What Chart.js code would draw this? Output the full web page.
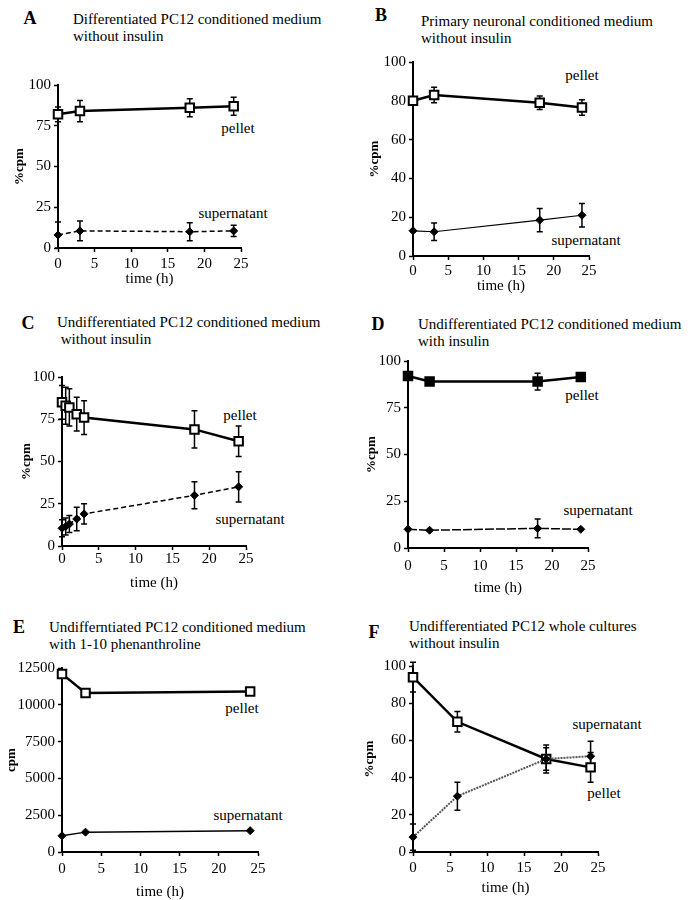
<!DOCTYPE html>
<html>
<head>
<meta charset="utf-8">
<script src="https://cdn.jsdelivr.net/npm/chart.js@4.4.0/dist/chart.umd.min.js"></script>
<style>
  body { margin: 0; background: #fff; }
  #page { position: relative; width: 691px; height: 900px; font-family: "Liberation Serif", "Times New Roman", serif; color: #000; overflow: hidden; }
  canvas { position: absolute; }
  .letter { position: absolute; font-weight: bold; font-size: 18px; transform: translate(-50%, -50%); }
  .title { position: absolute; font-size: 15px; line-height: 17px; white-space: nowrap; }
  .note { position: absolute; font-size: 15px; transform: translate(-50%, -50%); white-space: nowrap; }
</style>
</head>
<body>
<div id="page"></div>
<script>
// A: differentiated PC12 conditioned medium, no insulin
const timeA = [0, 3, 18, 24];
const pelletA = [82, 84, 86, 87];
const pelletErrA = [4.5, 6.5, 5.5, 5.5];
const supA = [8, 10.5, 10, 10.5];
const supErrA = [8, 6, 5.5, 3.5];

// B: primary neuronal conditioned medium
const timeB = [0, 3, 18, 24];
const pelletB = [80, 83, 79, 76.5];
const pelletErrB = [2, 4, 3.5, 4];
const supB = [13, 12.5, 18.5, 21];
const supErrB = [0, 4.5, 6, 6];

// C: undifferentiated, no insulin
const timeC = [0, 0.5, 1, 2, 3, 18, 24];
const pelletC = [85, 83, 82, 78, 76, 69, 62];
const pelletErrC = [10, 11, 11, 10, 10, 11, 9];
const supC = [10.5, 11.5, 13, 16, 19, 30, 35];
const supErrC = [5, 5, 5, 7, 6, 8, 9];

// D: undifferentiated, with insulin
const timeD = [0, 3, 18, 24];
const pelletD = [92, 89, 89, 91.5];
const pelletErrD = [0, 0, 4.5, 0];
const supD = [10, 9.5, 10.5, 10];
const supErrD = [0, 0, 5, 0];

// E: with 1-10 phenanthroline (raw cpm)
const timeE = [0, 3, 24];
const pelletE = [12100, 10800, 10900];
const pelletErrE = [0, 0, 0];
const supE = [1100, 1350, 1450];
const supErrE = [0, 0, 0];

// F: whole cultures
const timeF = [0, 6, 18, 24];
const pelletF = [94, 70, 50, 45.5];
const pelletErrF = [8, 5.5, 7.5, 8];
const supF = [8, 30, 50, 51.5];
const supErrF = [7, 7.5, 6, 8];

const xTicks = [0, 5, 10, 15, 20, 25];
const FONT = '"Liberation Serif", "Times New Roman", serif';

const panels = [
  { letter: 'A', letterAt: [30, 18], titleAt: [73, 11],
    title: ['Differentiated PC12 conditioned medium', 'without insulin'],
    plot: [58, 85, 241, 248], yTitleX: 20, xTitleY: 279, xPad: 3,
    yMax: 100, yStep: 25, yTitle: '%cpm',
    time: timeA, pellet: pelletA, pelletErr: pelletErrA, sup: supA, supErr: supErrA,
    pelletFill: '#fff', supDash: [5, 3], supWidth: 1.5, supColor: '#000',
    notes: [['pellet', 238, 128], ['supernatant', 233, 213]] },
  { letter: 'B', letterAt: [381, 15], titleAt: [421, 13],
    title: ['Primary neuronal conditioned medium', 'without insulin'],
    plot: [413, 62, 589, 256], yTitleX: 375, xTitleY: 286, xPad: 2,
    yMax: 100, yStep: 20, yTitle: '%cpm',
    time: timeB, pellet: pelletB, pelletErr: pelletErrB, sup: supB, supErr: supErrB,
    pelletFill: '#fff', supDash: [], supWidth: 1.2, supColor: '#000',
    notes: [['pellet', 582, 75], ['supernatant', 586, 240]] },
  { letter: 'C', letterAt: [28, 323], titleAt: [57, 314],
    title: ['Undifferentiated PC12 conditioned medium', ' without insulin'],
    plot: [62, 377, 246, 546], yTitleX: 27, xTitleY: 583, xPad: 0,
    yMax: 100, yStep: 25, yTitle: '%cpm',
    time: timeC, pellet: pelletC, pelletErr: pelletErrC, sup: supC, supErr: supErrC,
    pelletFill: '#fff', supDash: [5, 3], supWidth: 1.5, supColor: '#000',
    notes: [['pellet', 240, 415], ['supernatant', 250, 519]] },
  { letter: 'D', letterAt: [378, 324], titleAt: [418, 316],
    title: ['Undifferentiated PC12 conditioned medium', 'with insulin'],
    plot: [408, 361, 588, 548], yTitleX: 372, xTitleY: 588, xPad: 5,
    yMax: 100, yStep: 25, yTitle: '%cpm',
    time: timeD, pellet: pelletD, pelletErr: pelletErrD, sup: supD, supErr: supErrD,
    pelletFill: '#000', supDash: [9, 2], supWidth: 1.5, supColor: '#000',
    notes: [['pellet', 582, 395], ['supernatant', 598, 510]] },
  { letter: 'E', letterAt: [19, 627], titleAt: [49, 619],
    title: ['Undifferntiated PC12 conditioned medium', 'with 1-10 phenanthroline'],
    plot: [62, 668, 258, 852], yTitleX: 12, xTitleY: 892, xPad: 4,
    yMax: 12500, yStep: 2500, yTitle: 'cpm',
    time: timeE, pellet: pelletE, pelletErr: pelletErrE, sup: supE, supErr: supErrE,
    pelletFill: '#fff', supDash: [], supWidth: 1.5, supColor: '#000',
    notes: [['pellet', 242, 708], ['supernatant', 248, 815]] },
  { letter: 'F', letterAt: [374, 632], titleAt: [409, 618],
    title: ['Undifferentiated PC12 whole cultures', 'without insulin'],
    plot: [413, 666, 598, 852], yTitleX: 370, xTitleY: 888, xPad: 3,
    yMax: 100, yStep: 20, yTitle: '%cpm',
    time: timeF, pellet: pelletF, pelletErr: pelletErrF, sup: supF, supErr: supErrF,
    pelletFill: '#fff', supDash: [2, 1], supWidth: 2, supColor: '#555',
    notes: [['supernatant', 607, 724], ['pellet', 604, 793]] }
];

// draws vertical error bars with caps, under the markers
const errorBars = {
  id: 'errorBars',
  beforeDatasetsDraw(chart) {
    const ctx = chart.ctx;
    const yScale = chart.scales.y;
    chart.data.datasets.forEach((ds, di) => {
      if (!ds.errors) return;
      const meta = chart.getDatasetMeta(di);
      ctx.save();
      ctx.setLineDash([]);
      ctx.strokeStyle = '#000';
      ctx.lineWidth = 1.5;
      meta.data.forEach((pt, i) => {
        const e = ds.errors[i];
        if (!e) return;
        const v = ds.data[i].y;
        const top = yScale.getPixelForValue(v + e);
        const bot = yScale.getPixelForValue(v - e);
        ctx.beginPath();
        ctx.moveTo(pt.x, top);
        ctx.lineTo(pt.x, bot);
        ctx.moveTo(pt.x - 3, top);
        ctx.lineTo(pt.x + 3, top);
        ctx.moveTo(pt.x - 3, bot);
        ctx.lineTo(pt.x + 3, bot);
        ctx.stroke();
      });
      ctx.restore();
    });
  }
};

const page = document.getElementById('page');

function addText(cls, text, x, y) {
  const el = document.createElement('div');
  el.className = cls;
  el.style.left = x + 'px';
  el.style.top = y + 'px';
  el.textContent = text;
  page.appendChild(el);
  return el;
}

function axisStyle() {
  return {
    grid: { display: true, drawOnChartArea: false, drawTicks: true, tickLength: 4, color: '#000', tickWidth: 1.5 },
    border: { display: true, color: '#000', width: 2 }
  };
}

panels.forEach(p => {
  addText('letter', p.letter, p.letterAt[0], p.letterAt[1]);
  const t = addText('title', '', p.titleAt[0], p.titleAt[1]);
  t.innerHTML = p.title.join('<br>').replace(/ /g, '&nbsp;');
  p.notes.forEach(n => addText('note', n[0], n[1], n[2]));

  const [pl, pt, pr, pb] = p.plot;
  const left = Math.round(p.yTitleX - 8);
  const top = pt - 15;
  const right = pr + 20;
  const bottom = Math.round(p.xTitleY + 8.5);
  const yWidth = pl - left;
  const xHeight = bottom - pb;

  const canvas = document.createElement('canvas');
  canvas.width = right - left;
  canvas.height = bottom - top;
  canvas.style.left = left + 'px';
  canvas.style.top = top + 'px';
  page.appendChild(canvas);

  const xs = axisStyle();
  const ys = axisStyle();

  new Chart(canvas.getContext('2d'), {
    type: 'line',
    data: {
      datasets: [
        {
          data: p.time.map((x, i) => ({ x: x, y: p.sup[i] })),
          errors: p.supErr,
          borderColor: p.supColor,
          borderWidth: p.supWidth,
          borderDash: p.supDash,
          pointStyle: 'rectRot',
          pointRadius: 4,
          pointBackgroundColor: '#000',
          pointBorderColor: '#000',
          pointBorderWidth: 1,
          tension: 0,
          clip: false
        },
        {
          data: p.time.map((x, i) => ({ x: x, y: p.pellet[i] })),
          errors: p.pelletErr,
          borderColor: '#000',
          borderWidth: 2.5,
          pointStyle: 'rect',
          pointRadius: 6,
          pointBackgroundColor: p.pelletFill,
          pointBorderColor: '#000',
          pointBorderWidth: 2,
          tension: 0,
          clip: false
        }
      ]
    },
    options: {
      responsive: false,
      animation: false,
      layout: { padding: { left: 0, top: 15, right: 20, bottom: 0 } },
      plugins: { legend: { display: false }, tooltip: { enabled: false } },
      scales: {
        x: {
          type: 'linear',
          min: 0,
          max: 25,
          afterBuildTicks: s => { s.ticks = xTicks.map(v => ({ value: v })); },
          afterFit: s => { s.height = xHeight; },
          ticks: { color: '#000', padding: p.xPad, maxRotation: 0, autoSkip: false,
                   font: { family: FONT, size: 15 } },
          title: { display: true, text: 'time (h)', color: '#000', padding: 0,
                   font: { family: FONT, size: 15 } },
          grid: xs.grid,
          border: xs.border
        },
        y: {
          min: 0,
          max: p.yMax,
          ticks: { stepSize: p.yStep, color: '#000', padding: 3,
                   callback: v => String(v),
                   font: { family: FONT, size: 15 } },
          afterFit: s => { s.width = yWidth; },
          title: { display: true, text: p.yTitle, color: '#000', padding: 0,
                   font: { family: FONT, size: 13, weight: 'bold' } },
          grid: ys.grid,
          border: ys.border
        }
      }
    },
    plugins: [errorBars]
  });
});
</script>
</body>
</html>
